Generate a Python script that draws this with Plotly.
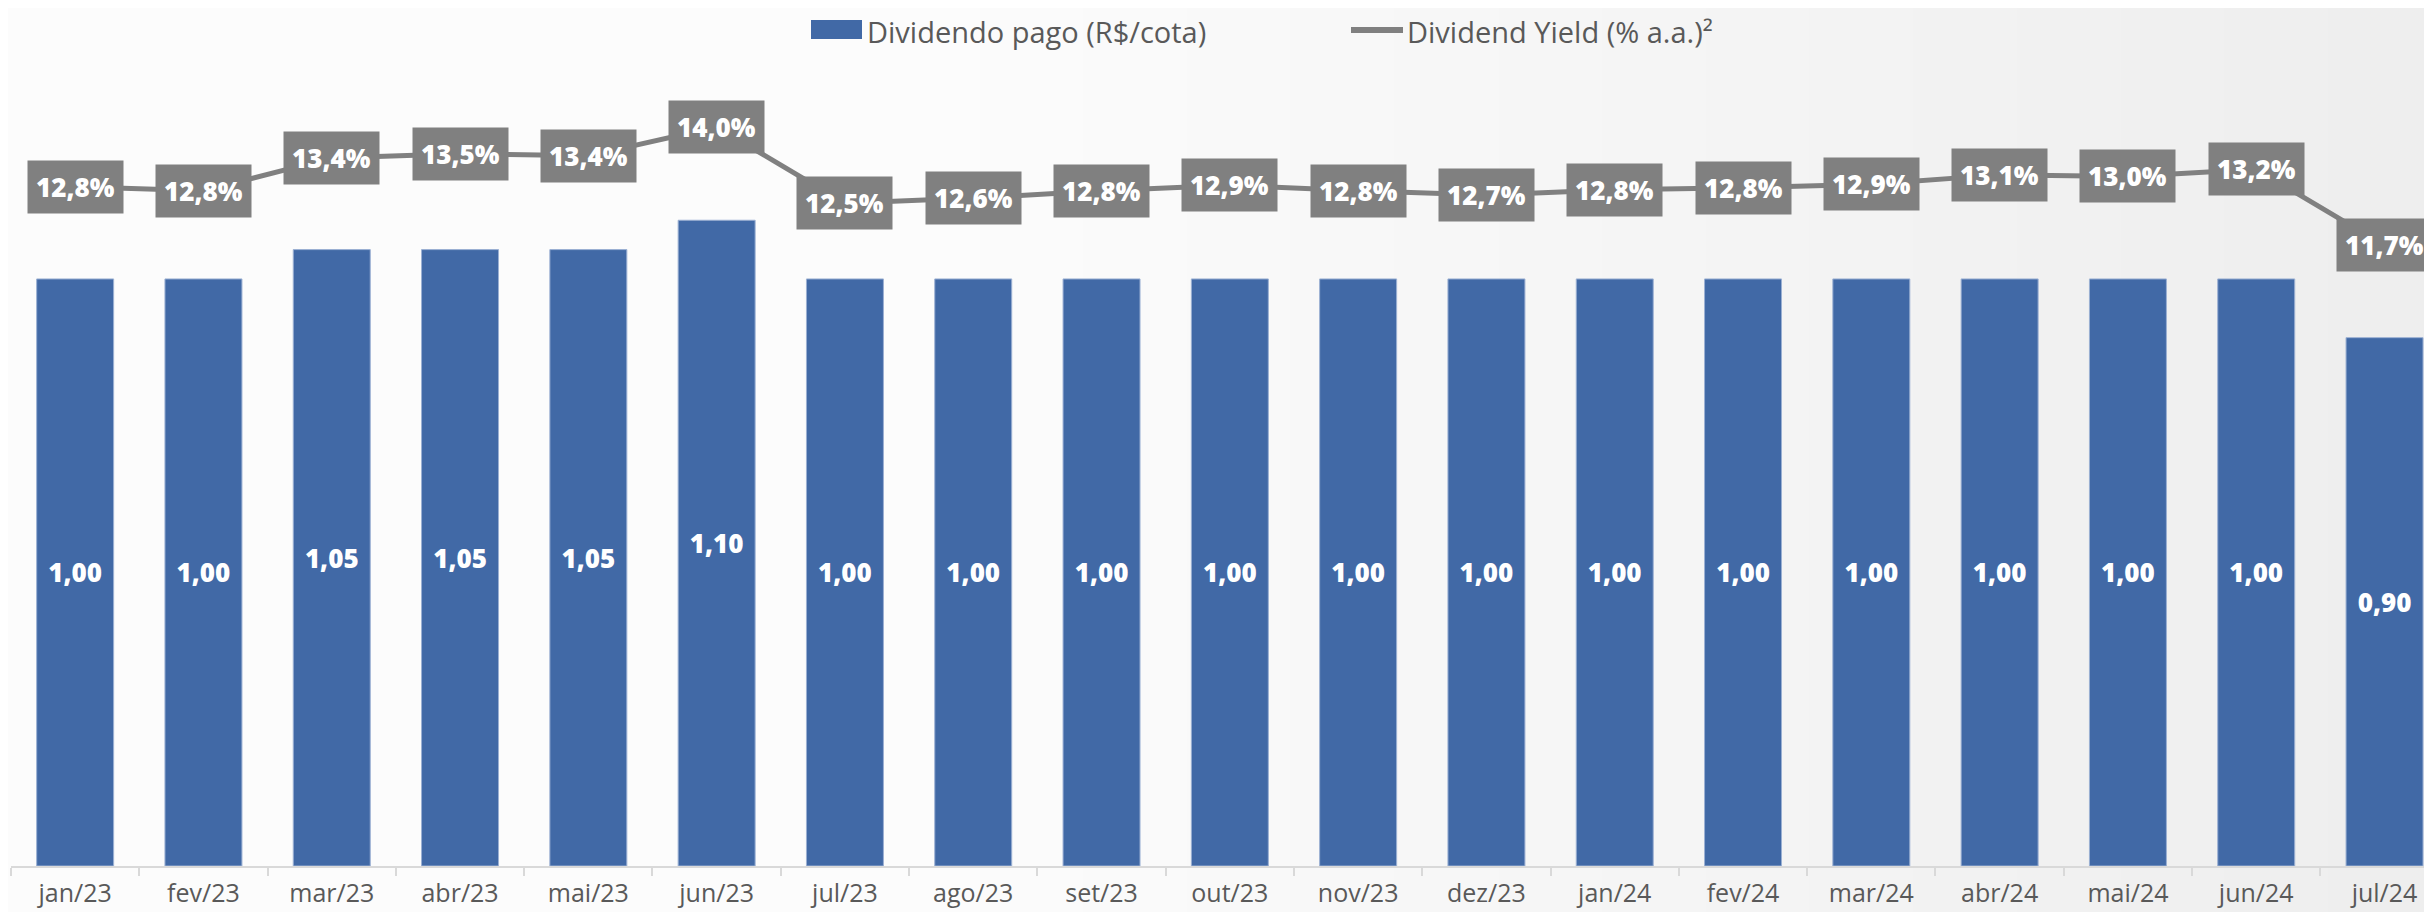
import plotly.graph_objects as go

categories = ['jan/23', 'fev/23', 'mar/23', 'abr/23', 'mai/23', 'jun/23', 'jul/23', 'ago/23',
              'set/23', 'out/23', 'nov/23', 'dez/23', 'jan/24', 'fev/24', 'mar/24', 'abr/24',
              'mai/24', 'jun/24', 'jul/24']
dividendo = [1.00, 1.00, 1.05, 1.05, 1.05, 1.10, 1.00, 1.00, 1.00, 1.00, 1.00, 1.00,
             1.00, 1.00, 1.00, 1.00, 1.00, 1.00, 0.90]
dividend_yield = [12.84, 12.76, 13.40, 13.48, 13.44, 14.00, 12.52, 12.62, 12.76, 12.87,
                  12.76, 12.68, 12.78, 12.82, 12.89, 13.07, 13.04, 13.18, 11.70]

bar_labels = [f"{v:.2f}".replace('.', ',') for v in dividendo]
dy_labels = [f"{v:.1f}".replace('.', ',') + '%' for v in dividend_yield]

OFF = 8  # page body margin
W, H = 2432 - OFF, 912 - OFF
ML, MR, MT, MB = 11 - OFF, 0, 50 - OFF, 46
PW, PH = W - ML - MR, H - MT - MB

def px(x):  # page pixel -> paper
    return (x - OFF - ML) / PW

def py(y):
    return (H - MB - (y - OFF)) / PH

BLUE = '#4169a6'
GRAY = '#808080'
TXT = '#595959'

fig = go.Figure()
fig.add_trace(go.Bar(
    x=categories, y=dividendo, name='Dividendo pago (R$/cota)',
    marker=dict(color=BLUE, line=dict(color='#9bb0d3', width=1)),
    text=bar_labels, textposition='inside', insidetextanchor='middle', textangle=0,
    textfont=dict(family='Open Sans', size=26, color='white', weight=800),
    showlegend=False, yaxis='y'))
fig.add_trace(go.Scatter(
    x=categories, y=dividend_yield, name='Dividend Yield (% a.a.)²',
    mode='lines', line=dict(color=GRAY, width=5),
    showlegend=False, yaxis='y2'))

annotations = []
for c, v, t in zip(categories, dividend_yield, dy_labels):
    annotations.append(dict(
        x=c, y=v, xref='x', yref='y2', text=t, showarrow=False,
        bgcolor=GRAY, borderpad=8,
        font=dict(family='Open Sans', size=26, color='white', weight=800),
        xanchor='center', yanchor='middle'))

# manual legend
shapes = [
    dict(type='rect', xref='paper', yref='paper', x0=px(811), x1=px(862), y0=py(39), y1=py(20),
         fillcolor=BLUE, line=dict(width=0)),
    dict(type='line', xref='paper', yref='paper', x0=px(1351), x1=px(1403), y0=py(30), y1=py(30),
         line=dict(color=GRAY, width=6)),
]
annotations += [
    dict(x=px(865), y=py(31), xref='paper', yref='paper', text='Dividendo pago (R$/cota)',
         showarrow=False, xanchor='left', yanchor='middle',
         font=dict(family='Open Sans', size=29, color=TXT)),
    dict(x=px(1405), y=py(31), xref='paper', yref='paper', text='Dividend Yield (% a.a.)²',
         showarrow=False, xanchor='left', yanchor='middle',
         font=dict(family='Open Sans', size=29, color=TXT)),
]

# subtle background gradient toward the right
bg_shapes = []
n = 14
for i in range(n):
    x0 = 0.40 + i * (0.60 / n)
    bg_shapes.append(dict(type='rect', xref='paper', yref='paper', x0=x0, x1=1.05,
                          y0=-0.3, y1=1.3, fillcolor='#d8d8d8', opacity=0.025,
                          line=dict(width=0), layer='below'))

fig.update_layout(
    width=W, height=H,
    margin=dict(l=ML, r=MR, t=MT, b=MB),
    paper_bgcolor='#fcfcfc', plot_bgcolor='rgba(0,0,0,0)',
    bargap=0.4,
    showlegend=False,
    xaxis=dict(type='category', range=[-0.5, 18.37], showline=True, linecolor='#d9d9d9',
               linewidth=2, ticks='outside', tickson='boundaries', ticklen=8,
               tickcolor='#d9d9d9', tickwidth=2, showgrid=False, zeroline=False,
               tickfont=dict(family='Open Sans', size=25, color=TXT), ticklabelstandoff=4),
    yaxis=dict(range=[0, 1.39], visible=False, showgrid=False, zeroline=False),
    yaxis2=dict(range=[-0.35, 15.495], overlaying='y', visible=False, showgrid=False,
                zeroline=False),
    annotations=annotations,
    shapes=bg_shapes + shapes,
)

fig.write_html('out.html')
